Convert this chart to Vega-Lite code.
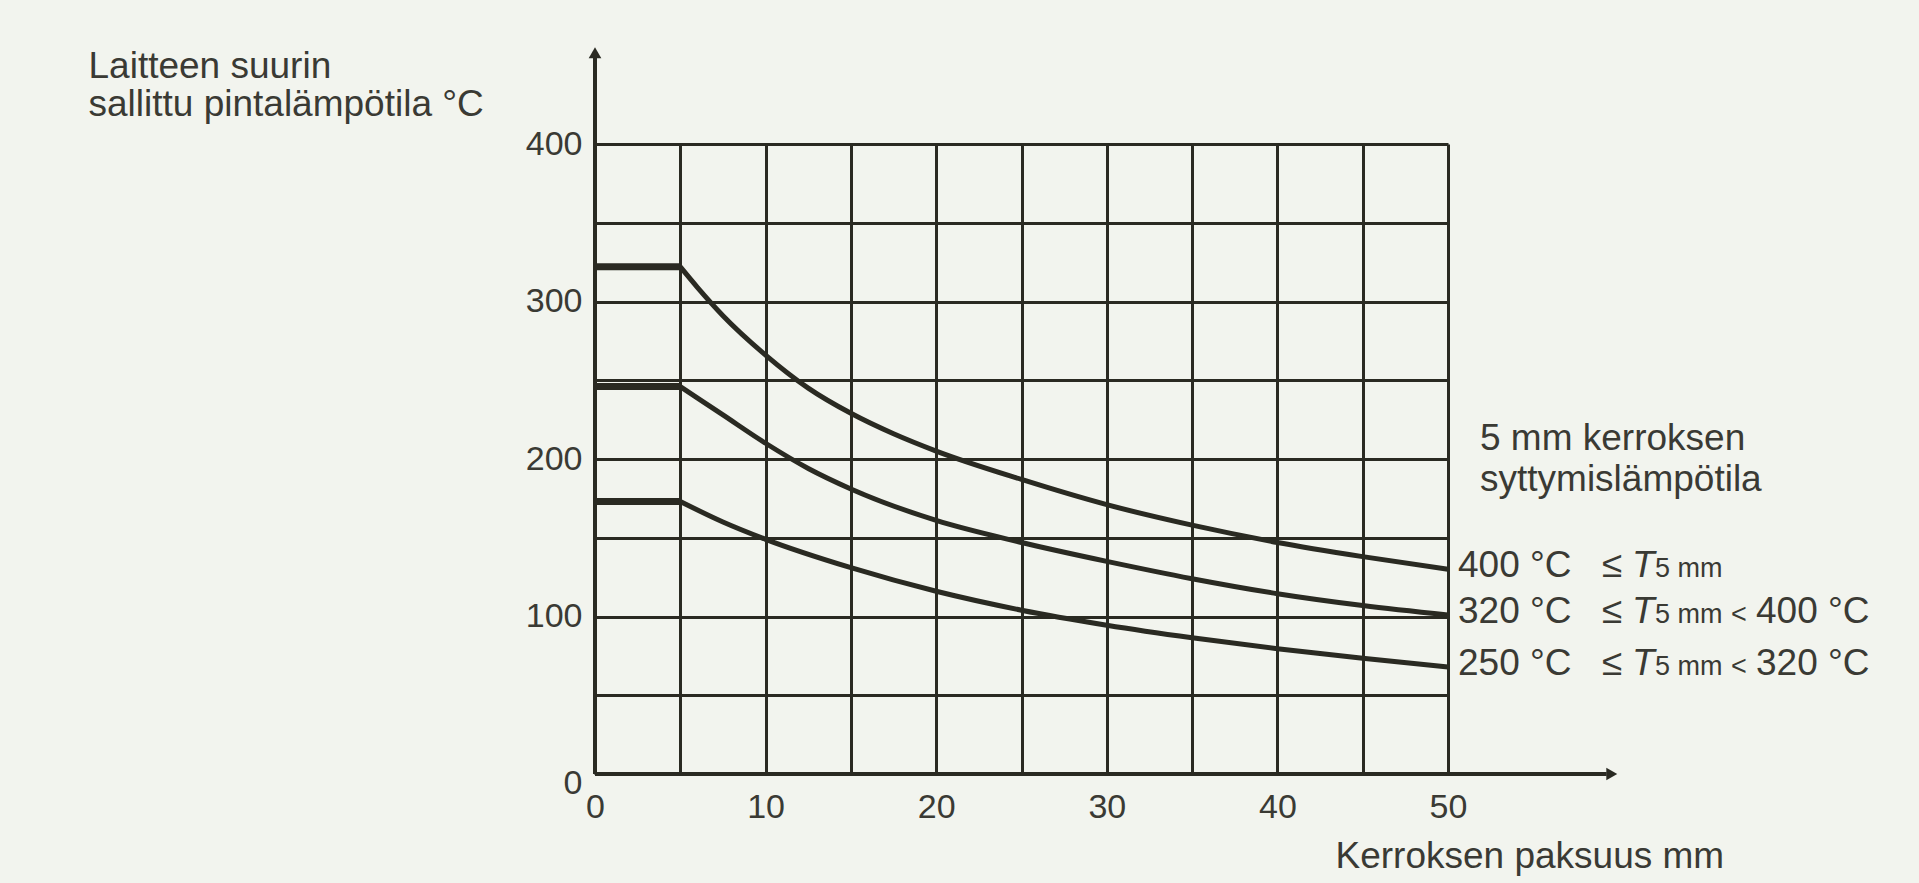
{
  "$schema": "https://vega.github.io/schema/vega-lite/v6.json",
  "autosize": {"type": "none"},
  "width": 853,
  "height": 630,
  "padding": {"left": 595, "top": 144, "right": 471, "bottom": 109},
  "background": "#f2f4ee",
  "config": {"view": {"stroke": null}, "font": "Liberation Sans"},
  "datasets": {
    "curves": [
      {"series": "400", "x": 0, "y": 322}, {"series": "400", "x": 5, "y": 322}, {"series": "400", "x": 6, "y": 309},
      {"series": "400", "x": 7.5, "y": 291}, {"series": "400", "x": 10, "y": 266}, {"series": "400", "x": 12.5, "y": 245},
      {"series": "400", "x": 15, "y": 229}, {"series": "400", "x": 17.5, "y": 216}, {"series": "400", "x": 20, "y": 205},
      {"series": "400", "x": 25, "y": 187}, {"series": "400", "x": 30, "y": 171}, {"series": "400", "x": 35, "y": 158},
      {"series": "400", "x": 40, "y": 147}, {"series": "400", "x": 45, "y": 138}, {"series": "400", "x": 50, "y": 130},
      {"series": "320", "x": 0, "y": 246}, {"series": "320", "x": 5, "y": 246}, {"series": "320", "x": 7.5, "y": 228},
      {"series": "320", "x": 10, "y": 210}, {"series": "320", "x": 12.5, "y": 194}, {"series": "320", "x": 15, "y": 181},
      {"series": "320", "x": 20, "y": 161}, {"series": "320", "x": 25, "y": 147}, {"series": "320", "x": 30, "y": 135},
      {"series": "320", "x": 35, "y": 124}, {"series": "320", "x": 40, "y": 114.5}, {"series": "320", "x": 45, "y": 107},
      {"series": "320", "x": 50, "y": 101},
      {"series": "250", "x": 0, "y": 173}, {"series": "250", "x": 5, "y": 173}, {"series": "250", "x": 7.5, "y": 160},
      {"series": "250", "x": 10, "y": 149}, {"series": "250", "x": 15, "y": 131}, {"series": "250", "x": 20, "y": 116},
      {"series": "250", "x": 25, "y": 104}, {"series": "250", "x": 30, "y": 94.5}, {"series": "250", "x": 35, "y": 86.5},
      {"series": "250", "x": 40, "y": 79.5}, {"series": "250", "x": 45, "y": 73.5}, {"series": "250", "x": 50, "y": 68}
    ],
    "labels": [
      {"series": "400", "lo": "400 °C", "hi": "", "lt": ""},
      {"series": "320", "lo": "320 °C", "hi": "400 °C", "lt": "<"},
      {"series": "250", "lo": "250 °C", "hi": "320 °C", "lt": "<"}
    ],
    "notes": [{"note": "5 mm kerroksen\nsyttymislämpötila"}]
  },
  "layer": [
    {
      "data": {"name": "curves"},
      "transform": [{"filter": "datum.x >= 5"}],
      "mark": {"type": "line", "color": "#2a2a22", "strokeWidth": 5, "interpolate": "monotone", "strokeCap": "butt"},
      "encoding": {
        "x": {
          "field": "x", "type": "quantitative",
          "scale": {"domain": [0, 50], "nice": false, "zero": true},
          "axis": {
            "values": [0, 5, 10, 15, 20, 25, 30, 35, 40, 45, 50],
            "labelExpr": "datum.value % 10 === 0 ? datum.label : ''",
            "grid": true, "gridColor": "#2a2a22", "gridWidth": 3, "gridOpacity": 1,
            "domain": false, "ticks": false,
            "labelFont": "Liberation Sans", "labelFontSize": 34, "labelColor": "#3a3a34",
            "labelPadding": 16, "labelFlush": false, "labelOverlap": false,
            "title": "Kerroksen paksuus mm",
            "titleX": 740, "titleY": 93, "titleAlign": "left", "titleBaseline": "alphabetic",
            "titleFont": "Liberation Sans", "titleFontSize": 37, "titleFontWeight": "normal", "titleColor": "#3a3a34"
          }
        },
        "y": {
          "field": "y", "type": "quantitative",
          "scale": {"domain": [0, 400], "nice": false, "zero": true},
          "axis": {
            "values": [0, 50, 100, 150, 200, 250, 300, 350, 400],
            "labelExpr": "datum.value % 100 === 0 ? datum.label : ''",
            "grid": true, "gridColor": "#2a2a22", "gridWidth": 3, "gridOpacity": 1,
            "domain": false, "ticks": false,
            "labelFont": "Liberation Sans", "labelFontSize": 34, "labelColor": "#3a3a34",
            "labelPadding": 13, "labelFlush": false, "labelOverlap": false,
            "labelOffset": {"condition": {"test": "datum.value === 0", "value": 9}, "value": 0},
            "title": ["Laitteen suurin", "sallittu pintalämpötila °C"],
            "titleAngle": 0, "titleX": -507, "titleY": -67, "titleAlign": "left", "titleBaseline": "alphabetic",
            "titleLineHeight": 38,
            "titleFont": "Liberation Sans", "titleFontSize": 37, "titleFontWeight": "normal", "titleColor": "#3a3a34"
          }
        },
        "detail": {"field": "series"}
      }
    },
    {
      "data": {"name": "curves"},
      "transform": [{"filter": "datum.x <= 5"}],
      "mark": {"type": "line", "color": "#2a2a22", "strokeWidth": 7, "strokeCap": "butt"},
      "encoding": {
        "x": {"field": "x", "type": "quantitative"},
        "y": {"field": "y", "type": "quantitative"},
        "detail": {"field": "series"}
      }
    },
    {
      "data": {"values": [{}]},
      "mark": {"type": "rule", "color": "#2a2a22", "strokeWidth": 4},
      "encoding": {"x": {"datum": 0}, "y": {"datum": 0}, "y2": {"datum": 455}}
    },
    {
      "data": {"values": [{}]},
      "mark": {"type": "rule", "color": "#2a2a22", "strokeWidth": 4},
      "encoding": {"x": {"datum": 0}, "x2": {"datum": 59.3}, "y": {"datum": 0}}
    },
    {
      "data": {"values": [{}]},
      "mark": {"type": "point", "shape": "triangle-up", "filled": true, "size": 160, "color": "#2a2a22", "opacity": 1},
      "encoding": {"x": {"datum": 0}, "y": {"datum": 458}}
    },
    {
      "data": {"values": [{}]},
      "mark": {"type": "point", "shape": "triangle-right", "filled": true, "size": 160, "color": "#2a2a22", "opacity": 1},
      "encoding": {"x": {"datum": 59.6}, "y": {"datum": 0}}
    },
    {
      "data": {"name": "notes"},
      "mark": {"type": "text", "align": "left", "baseline": "alphabetic", "dx": 32, "fontSize": 37, "lineBreak": "\n", "lineHeight": 41, "color": "#3a3a34", "font": "Liberation Sans"},
      "encoding": {"x": {"datum": 50}, "y": {"datum": 206}, "text": {"field": "note"}}
    },
    {
      "data": {"name": "curves"},
      "transform": [
        {"filter": "datum.x === 50"},
        {"lookup": "series", "from": {"data": {"name": "labels"}, "key": "series", "fields": ["lo", "hi", "lt"]}}
      ],
      "encoding": {
        "x": {"field": "x", "type": "quantitative"},
        "y": {"field": "y", "type": "quantitative"}
      },
      "layer": [
        {"mark": {"type": "text", "align": "left", "baseline": "alphabetic", "dx": 10, "dy": 8, "fontSize": 37, "color": "#3a3a34", "font": "Liberation Sans"},
         "encoding": {"text": {"field": "lo"}}},
        {"mark": {"type": "text", "align": "left", "baseline": "alphabetic", "dx": 154, "dy": 8, "fontSize": 37, "color": "#3a3a34", "font": "Liberation Sans", "text": "≤"}},
        {"mark": {"type": "text", "align": "left", "baseline": "alphabetic", "dx": 184, "dy": 8, "fontSize": 37, "fontStyle": "italic", "color": "#3a3a34", "font": "Liberation Sans", "text": "T"}},
        {"mark": {"type": "text", "align": "left", "baseline": "alphabetic", "dx": 207, "dy": 8, "fontSize": 27, "color": "#3a3a34", "font": "Liberation Sans", "text": "5 mm"}},
        {"mark": {"type": "text", "align": "left", "baseline": "alphabetic", "dx": 283, "dy": 8, "fontSize": 27, "color": "#3a3a34", "font": "Liberation Sans"},
         "encoding": {"text": {"field": "lt"}}},
        {"mark": {"type": "text", "align": "left", "baseline": "alphabetic", "dx": 308, "dy": 8, "fontSize": 37, "color": "#3a3a34", "font": "Liberation Sans"},
         "encoding": {"text": {"field": "hi"}}}
      ]
    }
  ]
}
